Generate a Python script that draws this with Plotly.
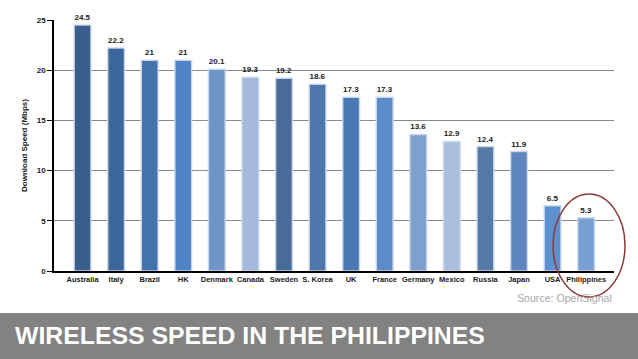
import plotly.graph_objects as go

countries = ["Australia", "Italy", "Brazil", "HK", "Denmark", "Canada", "Sweden", "S. Korea",
             "UK", "France", "Germany", "Mexico", "Russia", "Japan", "USA", "Philippines"]
speeds = [24.5, 22.2, 21, 21, 20.1, 19.3, 19.2, 18.6, 17.3, 17.3, 13.6, 12.9, 12.4, 11.9, 6.5, 5.3]
bar_colors = ["#3b5e8c", "#3d669b", "#4472ad", "#4f84c4", "#7095c8", "#a4b9dc", "#486b9a", "#4f77ab",
              "#4a78b2", "#5b8cca", "#7f9fcf", "#abbfdf", "#5679a6", "#5e87bd", "#5e90d0", "#7aa0d3"]
y_ticks = [0, 5, 10, 15, 20, 25]

W, H = 638, 359
L, R, T, B = 54, 24, 20, 88
pw, ph = W - L - R, H - T - B

def px(x):
    return (x - L) / pw

def py(y):
    return (H - B - y) / ph

font_family = "Arial, Liberation Sans, sans-serif"

fig = go.Figure()
fig.add_trace(go.Bar(
    x=countries, y=speeds,
    marker=dict(color=bar_colors, line=dict(color="rgba(205,218,238,0.9)", width=1.5)),
    width=0.5,
    text=[str(v) for v in speeds], textposition="outside",
    textfont=dict(size=8, color="#1a1a1a", family=font_family, weight="bold"),
    cliponaxis=False,
))

fig.update_layout(
    width=W, height=H,
    margin=dict(l=L, r=R, t=T, b=B, autoexpand=False),
    paper_bgcolor="white", plot_bgcolor="white",
    showlegend=False,
    font=dict(family=font_family),
    xaxis=dict(range=[-0.85, 15.83], showline=True, linecolor="black", linewidth=1.5,
               ticks="", tickangle=0, automargin=False,
               tickfont=dict(size=7.5, color="#1a1a1a", weight="bold"), fixedrange=True),
    yaxis=dict(range=[0, 25], tickvals=y_ticks, showline=True, linecolor="black", linewidth=1.5,
               ticks="outside", ticklen=5, tickcolor="black", showgrid=True, gridcolor="#8a8a8a",
               gridwidth=1, zeroline=False, automargin=False,
               tickfont=dict(size=8, color="#1a1a1a", weight="bold"),
               title=dict(text="Download Speed (Mbps)", standoff=8,
                          font=dict(size=8, color="#1a1a1a", weight="bold"))),
)

# banner
fig.add_shape(type="rect", xref="paper", yref="paper",
              x0=px(-5), x1=px(W + 5), y0=py(313), y1=py(H + 5),
              fillcolor="#828282", line=dict(width=0), layer="above")
fig.add_annotation(text="WIRELESS SPEED IN THE PHILIPPINES", xref="paper", yref="paper",
                   x=px(13), y=py(335), xanchor="left", yanchor="middle", showarrow=False,
                   font=dict(size=24.8, color="white", family=font_family, weight="bold"))
# source
fig.add_annotation(text="Source: OpenSignal", xref="paper", yref="paper",
                   x=px(614), y=py(298), xanchor="right", yanchor="middle", showarrow=False,
                   font=dict(size=10.6, color="#a8a8a8", family=font_family))
# highlight ellipse
fig.add_shape(type="circle", xref="paper", yref="paper",
              x0=px(553), x1=px(625), y0=py(297), y1=py(194),
              line=dict(color="#8b3a3a", width=1.5))

fig.write_html("out.html", config={"displayModeBar": False},
               post_script="document.body.style.margin='0px';document.body.style.overflow='hidden';")
